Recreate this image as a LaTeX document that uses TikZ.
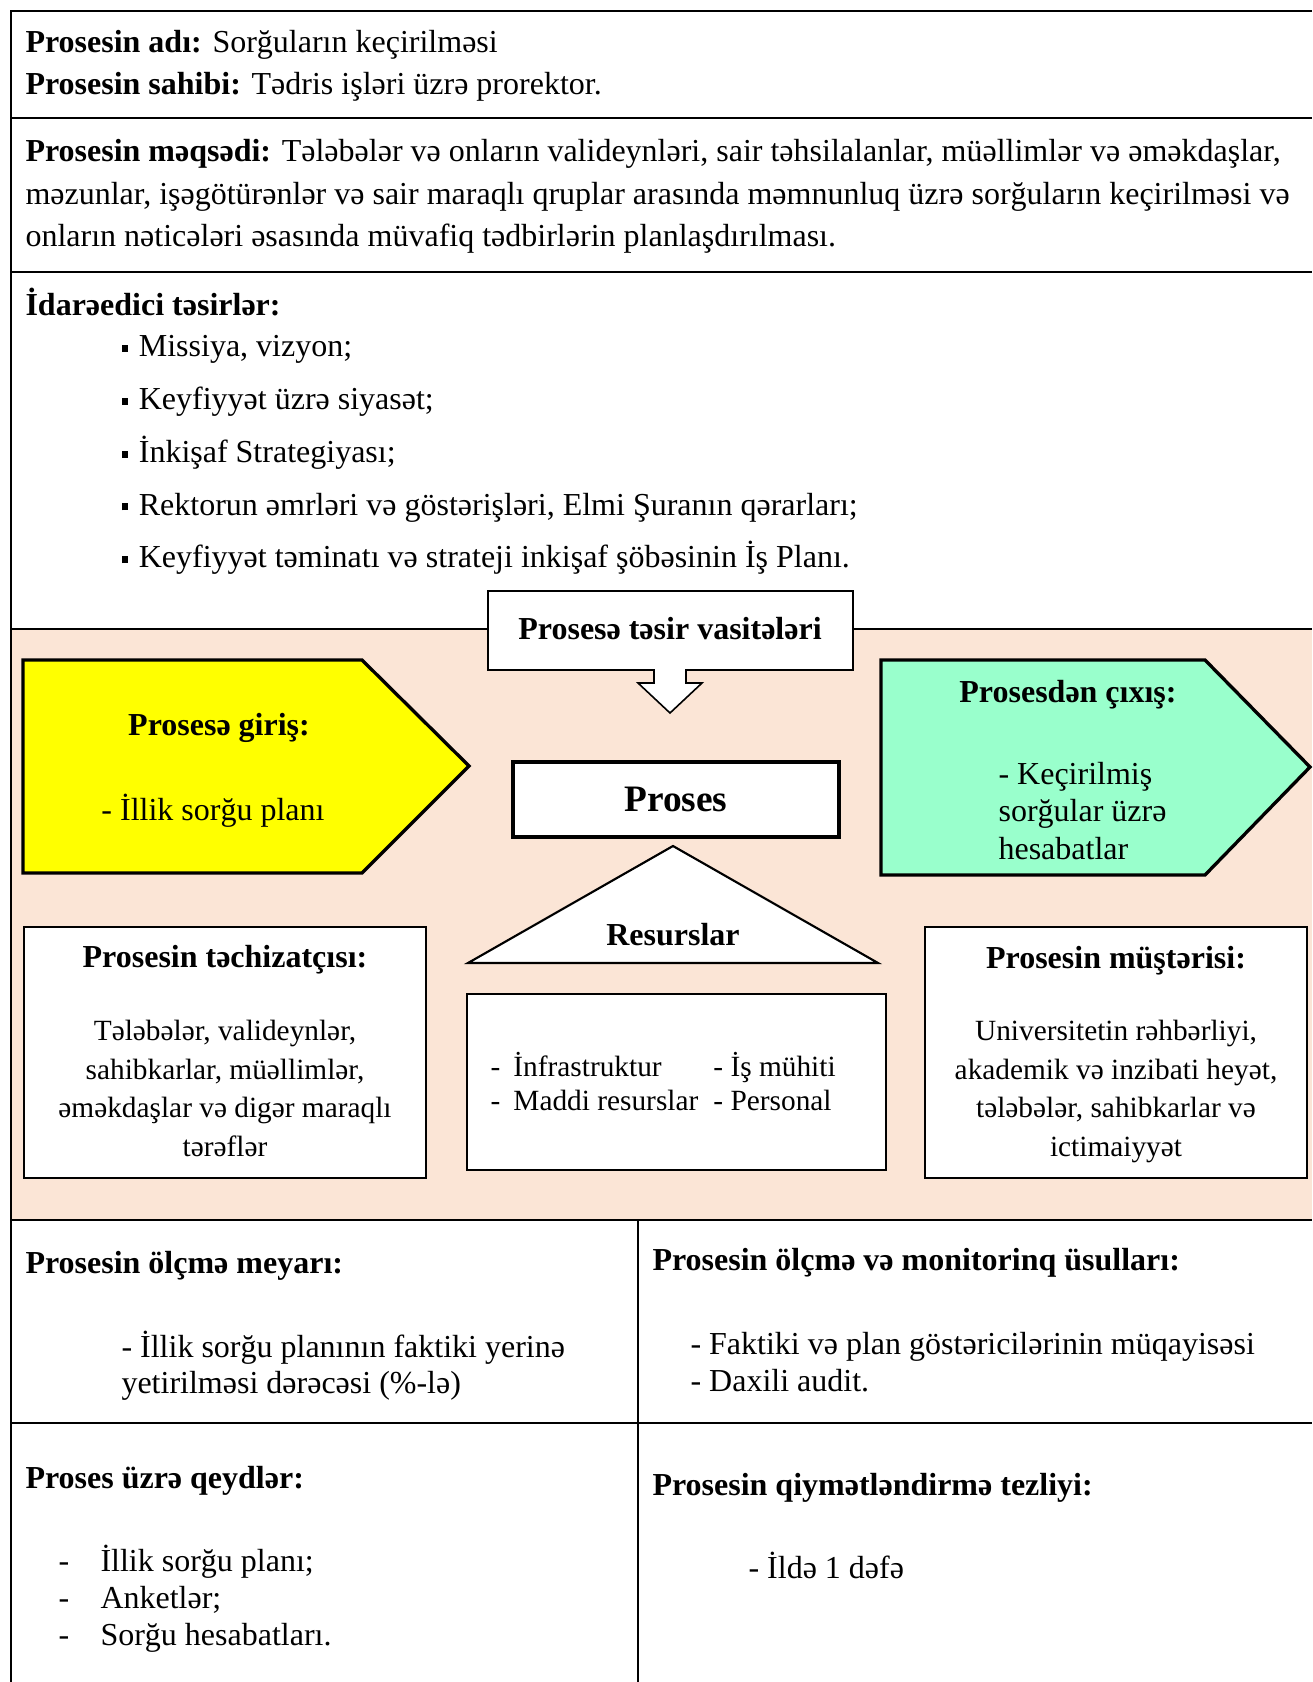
\documentclass[tikz,border=0pt]{standalone}
\usepackage{fontspec}
\setmainfont{Liberation Serif}
\usetikzlibrary{positioning}
\newlength\pxu
\setlength\pxu{0.375pt}
\definecolor{peach}{HTML}{FBE5D6}
\definecolor{mint}{HTML}{99FFCC}
\definecolor{lemon}{HTML}{FFFF00}
\newcommand{\sqbullet}{\raisebox{1.8pt}{\rule{2.6pt}{2.6pt}}\hspace{3.9pt}}
\newcommand{\dashitem}[2]{\makebox[#1][l]{-}#2}

\tikzset{
  body/.style={font=\fontsize{12}{16.1}\selectfont, inner sep=0pt, align=left},
  head/.style={body, font=\fontsize{12}{16.1}\selectfont\bfseries},
  boxtext/.style={font=\fontsize{11}{14.4}\selectfont, inner sep=0pt, align=center},
  box/.style={draw, line width=0.8pt, fill=white, inner sep=0pt},
  tabline/.style={line width=1pt},
  thinline/.style={line width=0.6pt},
  bold/.style={line width=1.25pt, line join=miter},
}

\begin{document}
\begin{tikzpicture}[x=\pxu, y=-\pxu]
\useasboundingbox (0,0) rectangle (1312,1682);

\fill[peach] (11,629) rectangle (1312,1220);
\draw[tabline] (1312,11) -- (11,11) -- (11,1682);
\draw[tabline] (11,118) -- (1312,118);
\draw[tabline] (11,272) -- (1312,272);
\draw[thinline] (11,629) -- (1312,629);
\draw[tabline] (11,1220) -- (1312,1220);
\draw[tabline] (11,1423) -- (1312,1423);
\draw[tabline] (638,1220) -- (638,1682);

% multi-line nodes sit on the baseline of their last line
\node[body, anchor=base west] (name) at (25,95)
  {\textbf{Prosesin adı:} Sorğuların keçirilməsi\\
   \textbf{Prosesin sahibi:} Tədris işləri üzrə prorektor.};
\node[body, anchor=base west] (goal) at (25,247)
  {\textbf{Prosesin məqsədi:} Tələbələr və onların valideynləri, sair təhsilalanlar, müəllimlər və əməkdaşlar,\\
   məzunlar, işəgötürənlər və sair maraqlı qruplar arasında məmnunluq üzrə sorğuların keçirilməsi və\\
   onların nəticələri əsasında müvafiq tədbirlərin planlaşdırılması.};
\node[head, anchor=base west] (control) at (25,316) {İdarəedici təsirlər:};
\node[body, font=\fontsize{12}{19.8}\selectfont, anchor=base west] (controls) at (121,568)
  {\sqbullet Missiya, vizyon;\\
   \sqbullet Keyfiyyət üzrə siyasət;\\
   \sqbullet İnkişaf Strategiyası;\\
   \sqbullet Rektorun əmrləri və göstərişləri, Elmi Şuranın qərarları;\\
   \sqbullet Keyfiyyət təminatı və strateji inkişaf şöbəsinin İş Planı.};

\draw[thinline, fill=white] (488,591) -- (853,591) -- (853,670) -- (686,670) -- (686,683)
  -- (702,683) -- (670,713) -- (638,683) -- (654,683) -- (654,670) -- (488,670) -- cycle;
\node[head, anchor=base] (tools) at (670,640) {Prosesə təsir vasitələri};

\draw[bold, fill=lemon] (23,660) -- (362,660) -- (469,766) -- (362,873) -- (23,873) -- cycle;
\node[head, anchor=base] (input) at (219,735) {Prosesə giriş:};
\node[body, anchor=base] (inputtext) at (213,820) {- İllik sorğu planı};

\draw[bold, fill=mint] (881,660) -- (1205,660) -- (1310,767) -- (1205,875) -- (881,875) -- cycle;
\node[head, anchor=base] (output) at (1068,702) {Prosesdən çıxış:};
\node[body, font=\fontsize{12}{13.9}\selectfont, anchor=base west] (outputtext) at (998,859)
  {- Keçirilmiş\\sorğular üzrə\\hesabatlar};

\node[box, line width=1.25pt, minimum width=326\pxu, minimum height=75\pxu,
  font=\fontsize{14}{16}\selectfont\bfseries] (proses) at (676,799.5) {Proses};

\draw[line width=0.8pt, fill=white] (673,846) -- (878,963) -- (468,963) -- cycle;
\node[head, anchor=base] (resurs) at (673,945) {Resurslar};

\node[box, minimum width=402\pxu, minimum height=251\pxu] (supplier) at (225,1052.5) {};
\node[head, anchor=base] (suppliertitle) at (225,967) {Prosesin təchizatçısı:};
\node[boxtext, anchor=base] (suppliertext) at (225,1156)
  {Tələbələr, valideynlər,\\sahibkarlar, müəllimlər,\\əməkdaşlar və digər maraqlı\\tərəflər};

\node[box, minimum width=419\pxu, minimum height=176\pxu] (resbox) at (676.5,1082) {};
\node[boxtext, font=\fontsize{11}{12.4}\selectfont, align=left, anchor=base west] (restext) at (490,1110)
  {\dashitem{8.6pt}{\makebox[75pt][l]{İnfrastruktur}}- İş mühiti\\
   \dashitem{8.6pt}{\makebox[75pt][l]{Maddi resurslar}}- Personal};

\node[box, minimum width=382\pxu, minimum height=251\pxu] (client) at (1116,1052.5) {};
\node[head, anchor=base] (clienttitle) at (1116,968) {Prosesin müştərisi:};
\node[boxtext, anchor=base] (clienttext) at (1116,1156)
  {Universitetin rəhbərliyi,\\akademik və inzibati heyət,\\tələbələr, sahibkarlar və\\ictimaiyyət};

\node[head, anchor=base west] (measure) at (25,1273) {Prosesin ölçmə meyarı:};
\node[body, font=\fontsize{12}{13.5}\selectfont, anchor=base west] (measuretext) at (121,1393)
  {- İllik sorğu planının faktiki yerinə\\yetirilməsi dərəcəsi (\%-lə)};
\node[head, anchor=base west] (monitor) at (652,1270) {Prosesin ölçmə və monitorinq üsulları:};
\node[body, font=\fontsize{12}{13.7}\selectfont, anchor=base west] (monitortext) at (690,1391.5)
  {- Faktiki və plan göstəricilərinin müqayisəsi\\- Daxili audit.};

\node[head, anchor=base west] (records) at (25,1488) {Proses üzrə qeydlər:};
\node[body, font=\fontsize{12}{13.7}\selectfont, anchor=base west] (recordstext) at (58,1645)
  {\dashitem{15.75pt}{İllik sorğu planı;}\\
   \dashitem{15.75pt}{Anketlər;}\\
   \dashitem{15.75pt}{Sorğu hesabatları.}};
\node[head, anchor=base west] (freq) at (652,1495) {Prosesin qiymətləndirmə tezliyi:};
\node[body, anchor=base west] (freqtext) at (748,1578) {- İldə 1 dəfə};
\end{tikzpicture}
\end{document}
